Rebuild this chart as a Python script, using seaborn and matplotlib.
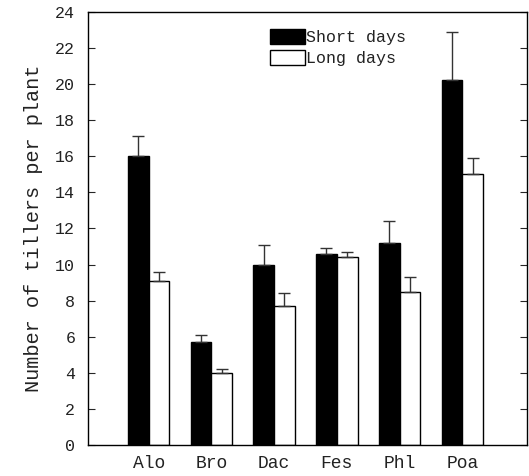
import matplotlib
matplotlib.use("Agg")
import matplotlib.pyplot as plt
import seaborn as sns
import pandas as pd
import numpy as np
from matplotlib.patches import Patch

categories = ["Alo", "Bro", "Dac", "Fes", "Phl", "Poa"]
short_days = [16.0, 5.7, 10.0, 10.6, 11.2, 20.2]
long_days = [9.1, 4.0, 7.7, 10.4, 8.5, 15.0]
short_err = [1.1, 0.4, 1.1, 0.3, 1.2, 2.7]
long_err = [0.5, 0.2, 0.7, 0.3, 0.8, 0.9]
series = ["Short days", "Long days"]
yticks = list(range(0, 25, 2))

sns.set_theme(style="white")
plt.rcParams['font.family'] = ['Liberation Mono', 'DejaVu Sans']

df = pd.DataFrame({
    "cat": categories * 2,
    "val": short_days + long_days,
    "series": [series[0]] * 6 + [series[1]] * 6,
})

fig = plt.figure(figsize=(5.29, 4.76), dpi=100)
ax = fig.add_axes([0.166, 0.065, 0.830, 0.910])

sns.barplot(data=df, x="cat", y="val", hue="series", order=categories,
            hue_order=series, palette={series[0]: "black", series[1]: "white"},
            width=0.66, edgecolor="black", linewidth=1.0, errorbar=None,
            saturation=1, ax=ax, legend=False)

for cont, errs in zip(ax.containers, [short_err, long_err]):
    xs = [p.get_x() + p.get_width() / 2 for p in cont.patches]
    ys = [p.get_height() for p in cont.patches]
    ax.errorbar(xs, ys, yerr=[np.zeros(len(errs)), errs], fmt="none",
                ecolor="#333333", elinewidth=1.0, capsize=4, capthick=1.0)

ax.set_xlim(-0.97, 6.03)
ax.set_ylim(0, 24)
ax.set_yticks(yticks)
ax.set_yticklabels([str(t) for t in yticks], fontsize=12, color="#222222")
ax.tick_params(axis="y", direction="in", length=5, width=0.8, right=True, left=True, pad=9)
ax.tick_params(axis="x", length=0, labelsize=13, pad=7)
for lbl in ax.get_xticklabels():
    lbl.set_color("#222222")
ax.set_xlabel("")
ax.set_ylabel("Number of tillers per plant", fontsize=14.6, labelpad=9, color="#222222")
for s in ax.spines.values():
    s.set_color("black")
    s.set_linewidth(1.0)

handles = [Patch(facecolor="black", edgecolor="black", label=series[0]),
           Patch(facecolor="white", edgecolor="black", label=series[1])]
ax.legend(handles=handles, loc="upper left", bbox_to_anchor=(0.40, 0.975),
          frameon=False, fontsize=12, handlelength=2.1, handleheight=0.95,
          handletextpad=0.05, labelspacing=0.3, borderaxespad=0,
          labelcolor="#222222")

fig.savefig("out.png", dpi=100)
